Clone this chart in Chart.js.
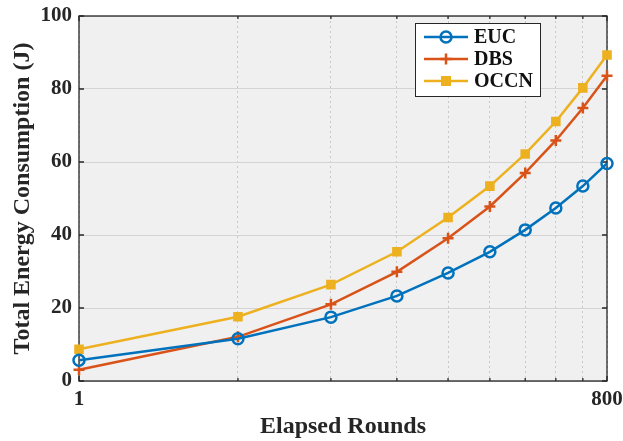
<!DOCTYPE html>
<html>
<head>
<meta charset="utf-8">
<script src="https://cdn.jsdelivr.net/npm/chart.js@4/dist/chart.umd.min.js"></script>
<style>
  html, body { margin: 0; padding: 0; background: #fff; }
  #wrap { width: 623px; height: 441px; }
</style>
</head>
<body>
<div id="wrap"><canvas id="chart" width="623" height="441"></canvas></div>
<script>
// round index on the log axis (1..10), only the two ends get labels
const rounds = [1, 2, 3, 4, 5, 6, 7, 8, 9, 10];
const xTickValues = [1, 10];
const xTickLabels = ["1", "800"];
const yTicks = [0, 20, 40, 60, 80, 100];

const seriesNames = ["EUC", "DBS", "OCCN"];
const eucValues = [5.7, 11.6, 17.5, 23.3, 29.6, 35.4, 41.4, 47.4, 53.4, 59.6];
const dbsValues = [3.1, 12.1, 21.0, 29.9, 39.1, 47.8, 57.0, 65.9, 74.8, 83.6];
const occnValues = [8.7, 17.6, 26.4, 35.4, 44.8, 53.4, 62.2, 71.1, 80.3, 89.3];

const colors = ["#0072BD", "#D95319", "#EDB120"];
const FONT = "'Liberation Serif', 'Times New Roman', serif";

function makeSet(label, values, color, style) {
  return {
    label: label,
    data: rounds.map((r, i) => ({ x: r, y: values[i] })),
    borderColor: color,
    backgroundColor: style === "rect" ? color : "rgba(0,0,0,0)",
    borderWidth: 2.5,
    pointStyle: style,
    pointRadius: style === "rect" ? 5 : 5.5,
    pointBorderWidth: 2.5,
    pointBorderColor: color,
    pointBackgroundColor: style === "rect" ? color : "rgba(0,0,0,0)",
    tension: 0,
    clip: false,
  };
}

// plot background, frame, inner tick marks and the in-plot legend
const framePlugin = {
  id: "frame",
  beforeDraw(chart) {
    const a = chart.chartArea, ctx = chart.ctx;
    ctx.save();
    ctx.fillStyle = "#f0f0f0";
    ctx.fillRect(a.left, a.top, a.right - a.left, a.bottom - a.top);
    ctx.restore();
  },
  beforeDatasetsDraw(chart) {
    const a = chart.chartArea, ctx = chart.ctx;
    const xs = chart.scales.x, ys = chart.scales.y;
    ctx.save();
    ctx.strokeStyle = "#262626";
    ctx.lineWidth = 1.3;
    ctx.strokeRect(a.left, a.top, a.right - a.left, a.bottom - a.top);
    ctx.beginPath();
    yTicks.forEach((v) => {
      const y = ys.getPixelForValue(v);
      ctx.moveTo(a.left, y); ctx.lineTo(a.left + 5, y);
      ctx.moveTo(a.right, y); ctx.lineTo(a.right - 5, y);
    });
    rounds.forEach((v) => {
      const x = xs.getPixelForValue(v);
      const len = xTickValues.includes(v) ? 5 : 3;
      ctx.moveTo(x, a.bottom); ctx.lineTo(x, a.bottom - len);
      ctx.moveTo(x, a.top); ctx.lineTo(x, a.top + len);
    });
    ctx.stroke();
    ctx.restore();
  },
  afterDraw(chart) {
    const ctx = chart.ctx;
    ctx.save();
    // legend box
    const bx = 415, by = 23, bw = 125, bh = 73;
    ctx.fillStyle = "#ffffff";
    ctx.fillRect(bx, by, bw, bh);
    ctx.strokeStyle = "#262626";
    ctx.lineWidth = 1;
    ctx.strokeRect(bx + 0.5, by + 0.5, bw, bh);
    chart.data.datasets.forEach((ds, i) => {
      const y = by + 14 + i * 22;
      const cx = 446, r = ds.pointRadius;
      ctx.strokeStyle = ds.borderColor;
      ctx.lineWidth = 2.5;
      ctx.beginPath();
      ctx.moveTo(424, y);
      ctx.lineTo(468, y);
      ctx.stroke();
      ctx.fillStyle = ds.pointBackgroundColor;
      ctx.lineWidth = ds.pointBorderWidth;
      ctx.beginPath();
      if (ds.pointStyle === "circle") {
        ctx.arc(cx, y, r, 0, Math.PI * 2);
        ctx.stroke();
      } else if (ds.pointStyle === "cross") {
        ctx.moveTo(cx - r, y); ctx.lineTo(cx + r, y);
        ctx.moveTo(cx, y - r); ctx.lineTo(cx, y + r);
        ctx.stroke();
      } else {
        ctx.rect(cx - r, y - r, r * 2, r * 2);
        ctx.fill();
      }
      ctx.fillStyle = "#111";
      ctx.font = "bold 20px " + FONT;
      ctx.textBaseline = "middle";
      ctx.textAlign = "left";
      ctx.fillText(ds.label, 474, y + 1);
    });
    ctx.restore();
  },
};

new Chart(document.getElementById("chart"), {
  type: "line",
  data: {
    datasets: [
      makeSet(seriesNames[0], eucValues, colors[0], "circle"),
      makeSet(seriesNames[1], dbsValues, colors[1], "cross"),
      makeSet(seriesNames[2], occnValues, colors[2], "rect"),
    ],
  },
  options: {
    responsive: false,
    animation: false,
    layout: { padding: { top: 16, right: 16, left: 0, bottom: 0 } },
    plugins: {
      legend: { display: false },
      tooltip: { enabled: false },
    },
    scales: {
      x: {
        type: "logarithmic",
        min: 1,
        max: 10,
        afterBuildTicks: (scale) => {
          scale.ticks = rounds.map((v) => ({ value: v }));
        },
        afterFit: (scale) => {
          scale.height = 60;
          scale.paddingLeft = 0;
          scale.paddingRight = 0;
        },
        ticks: {
          autoSkip: false,
          maxRotation: 0,
          padding: 6,
          color: "#262626",
          font: { family: FONT, size: 21, weight: "bold" },
          callback: (v) => {
            const k = xTickValues.indexOf(v);
            return k >= 0 ? xTickLabels[k] : "";
          },
        },
        grid: { color: "#c8c8c8", lineWidth: 1, drawTicks: false },
        border: { display: false, dash: [2, 3] },
        title: {
          display: true,
          text: "Elapsed Rounds",
          color: "#262626",
          font: { family: FONT, size: 24, weight: "bold" },
          padding: { top: 0, bottom: 0 },
        },
      },
      y: {
        min: 0,
        max: 100,
        afterBuildTicks: (scale) => {
          scale.ticks = yTicks.map((v) => ({ value: v }));
        },
        afterFit: (scale) => {
          scale.width = 79;
          scale.paddingTop = 0;
          scale.paddingBottom = 0;
        },
        ticks: {
          padding: 7,
          color: "#262626",
          font: { family: FONT, size: 21, weight: "bold" },
        },
        grid: { color: "#d4d4d4", lineWidth: 1, drawTicks: false },
        border: { display: false },
        title: {
          display: true,
          text: "Total Energy Consumption (J)",
          color: "#262626",
          font: { family: FONT, size: 24, weight: "bold" },
          padding: { top: 8, bottom: 0 },
        },
      },
    },
  },
  plugins: [framePlugin],
});
</script>
</body>
</html>
